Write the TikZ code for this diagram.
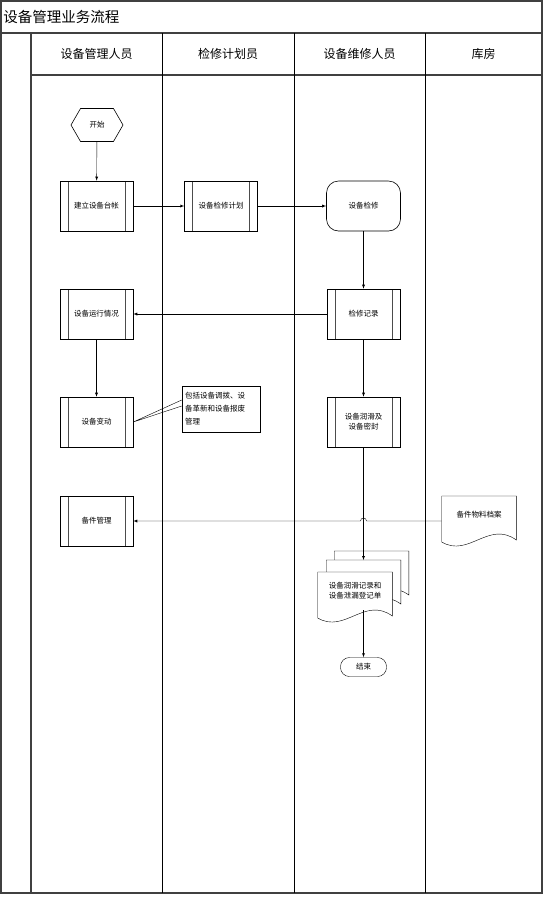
\documentclass[tikz,border=0pt]{standalone}
\usepackage{fontspec}
\setmainfont{Noto Sans CJK SC}
\usepackage{tikz}
\usetikzlibrary{positioning,shapes,arrows,backgrounds}

% outline of a document symbol (74pt wide, wavy bottom)
\newcommand{\docshape}[1]{%
  \draw[fill=white] (#1.north west) -- (#1.north east) -- ([yshift=-44pt]#1.north east)
    .. controls ([xshift=47pt,yshift=-24pt]#1.north west) and ([xshift=27pt,yshift=-62pt]#1.north west)
    .. ([yshift=-46pt]#1.north west) -- cycle;}

\tikzset{
  small/.style={font=\fontsize{7.5}{10}\selectfont},
  frame/.style={draw=black!75, line width=1.4pt},
  laneline/.style={draw=black, line width=0.9pt},
  subproc/.style={draw, fill=white, small, align=center, inner sep=1pt,
    minimum width=73pt, minimum height=50pt,
    path picture={\draw[black!70, line width=0.8pt]
      ([xshift=8pt]path picture bounding box.north west) -- ([xshift=8pt]path picture bounding box.south west)
      ([xshift=-8pt]path picture bounding box.north east) -- ([xshift=-8pt]path picture bounding box.south east);}},
  term/.style={draw, fill=white, small, align=center, rounded corners=12pt,
    minimum width=74pt, minimum height=50pt},
  docbox/.style={small, align=center, anchor=north, inner sep=1pt,
    minimum width=74pt, minimum height=36pt},
  note/.style={draw, fill=white, align=left, text width=72pt,
    inner sep=3pt, minimum height=46pt, font=\fontsize{7.5}{13}\selectfont}
}

\begin{document}
\begin{tikzpicture}[x=1pt, y=-1pt, >=latex, line width=0.6pt]
\useasboundingbox (0,0) rectangle (545,898);

% pool and lanes
\draw[frame] (1,1) rectangle (542,893);
\draw[frame] (1,33) -- (542,33);
\draw[frame] (31,33) -- (31,893);
\draw[frame] (31,75) -- (542,75);
\foreach \x in {162,294,425}
  \draw[laneline] (\x,33) -- (\x,893);
\node[anchor=west, font=\fontsize{14.5}{17}\selectfont, inner sep=1pt] (title) at (2,17) {设备管理业务流程};
\foreach \x/\name [count=\i] in {96.5/设备管理人员, 228/检修计划员, 359.5/设备维修人员, 483.5/库房}
  \node[font=\fontsize{12}{14}\selectfont] (lane\i) at (\x,54) {\name};

% steps
\draw node[draw, signal, signal to=west and east, signal pointer angle=120, small,
  minimum width=52pt, minimum height=33pt, inner sep=1pt] (start) at (97,125) {开始};
\draw node[subproc] (jl) at (96.5,206) {建立设备台帐};
\draw node[subproc, right=51pt of jl] (jh) {设备检修计划};
\draw node[term] (jx) at (363.5,206) {设备检修};
\draw node[subproc] (jr) at (363.5,314) {检修记录};
\draw node[subproc] (yx) at (96.5,314) {设备运行情况};
\draw node[subproc] (bd) at (96.5,422) {设备变动};
\draw node[note] (cb) at (221,409) {包括设备调拨、设\\备革新和设备报废\\管理};
\draw node[subproc] (rs) at (363.5,422) {设备润滑及\\设备密封};
\draw node[subproc] (gl) at (96.5,521) {备件管理};

\node[docbox] (wl) at (479,496) {备件物料档案};
\node[docbox] (md3) at (371.5,551) {};
\node[docbox] (md2) at (363.5,560) {};
\node[docbox] (md1) at (355,572) {设备润滑记录和\\设备泄漏登记单};
\begin{pgfonlayer}{background}
  \docshape{wl}
  \docshape{md3}
  \docshape{md2}
  \docshape{md1}
\end{pgfonlayer}
\draw node[draw, small, rounded corners=9pt, minimum width=46pt, minimum height=19pt,
  inner sep=1pt] (js) at (363.5,667) {结束};

% connectors
\draw[->] (start) -- (jl);
\draw[->] (jl) -- (jh);
\draw[->] (jh) -- (jx);
\draw[->] (jx) -- (jr);
\draw[->] (jr) -- (yx);
\draw[->] (yx) -- (bd);
\draw[->] (jr) -- (rs);
\draw[->] (rs) -- (md2.north);
\coordinate (dbot) at ([yshift=-38pt]md1.north);
\draw[->] (dbot -| js) -- (js);
\coordinate (hop) at (rs |- gl.east);
\draw[->] ([yshift=-25pt]wl.north west) -- ([xshift=3pt]hop)
  arc[start angle=0, end angle=180, radius=3pt] -- (gl.east);
\path (cb.west) ++(0,9pt) coordinate (c1) (cb.west) ++(0,3pt) coordinate (c2);
\draw (c1) -- (bd.east) -- (c2);
\end{tikzpicture}
\end{document}
